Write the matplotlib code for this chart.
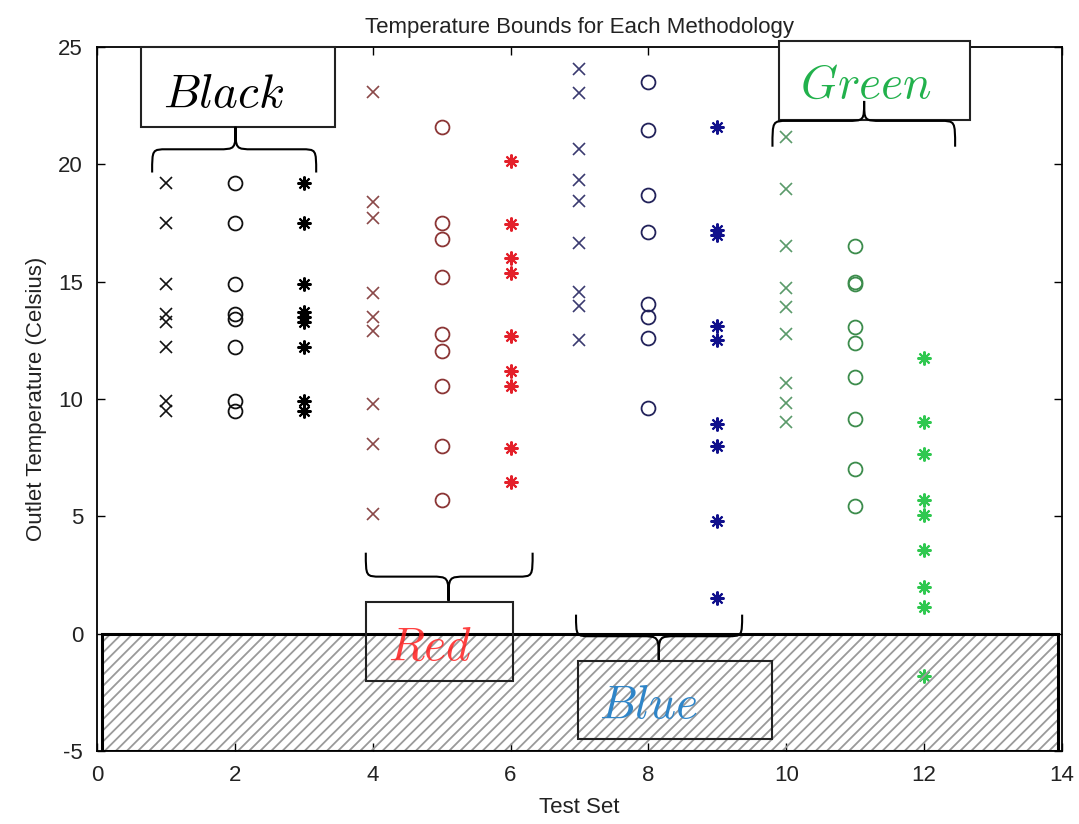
import numpy as np
import matplotlib
matplotlib.use("Agg")
import matplotlib.pyplot as plt
from matplotlib.patches import Rectangle, PathPatch
from matplotlib.path import Path

plt.rcParams['font.family'] = ['Liberation Sans', 'DejaVu Sans']
plt.rcParams['mathtext.fontset'] = 'cm'
plt.rcParams['axes.unicode_minus'] = False
plt.rcParams['hatch.linewidth'] = 1.3

# outlet temperature bounds per test set (x, o, * for each methodology)
test_black = [1, 2, 3]
black_x = [19.2, 17.5, 14.9, 13.6, 13.3, 12.2, 9.9, 9.5]
black_o = [19.2, 17.5, 14.9, 13.6, 13.4, 12.2, 9.9, 9.5]
black_star = [19.2, 17.5, 14.9, 13.7, 13.5, 13.3, 12.2, 9.9, 9.5]

test_red = [4, 5, 6]
red_x = [23.1, 18.4, 17.7, 14.5, 13.5, 12.9, 9.8, 8.1, 5.1]
red_o = [21.6, 17.5, 16.8, 15.2, 12.75, 12.05, 10.55, 8.0, 5.7]
red_star = [20.15, 17.45, 16.0, 15.35, 12.7, 11.2, 10.55, 7.9, 6.45]

test_blue = [7, 8, 9]
blue_x = [24.05, 23.05, 20.65, 19.35, 18.45, 16.65, 14.55, 13.95, 12.5]
blue_o = [23.5, 21.45, 18.7, 17.1, 14.05, 13.5, 12.6, 9.6]
blue_star = [21.6, 17.2, 17.0, 13.1, 12.5, 8.95, 8.0, 4.8, 1.5]

test_green = [10, 11, 12]
green_x = [21.15, 18.95, 16.5, 14.75, 13.9, 12.75, 10.7, 9.85, 9.0]
green_o = [16.5, 15.0, 14.9, 13.05, 12.4, 10.95, 9.15, 7.0, 5.45]
green_star = [11.75, 9.0, 7.65, 5.7, 5.05, 3.55, 2.0, 1.15, -1.8]

groups = [
    (test_black, [black_x, black_o, black_star], ['#111111', '#111111', '#000000']),
    (test_red, [red_x, red_o, red_star], ['#8a4848', '#8b3535', '#e4202a']),
    (test_blue, [blue_x, blue_o, blue_star], ['#3a3a70', '#22225a', '#10108c']),
    (test_green, [green_x, green_o, green_star], ['#5a9a6a', '#3c8c4c', '#30c850']),
]

fig = plt.figure(figsize=(10.79, 8.24), dpi=100)
ax = fig.add_axes([0.0899, 0.0886, 0.8943, 0.8544])

star = (8, 2, 0)
for tests, cols, colors in groups:
    for t, vals, c, m in zip(tests, cols, colors, ['x', 'o', star]):
        if m == 'x':
            ax.plot([t] * len(vals), vals, 'x', color=c, ms=8, mew=1.2, zorder=3)
        elif m == 'o':
            ax.plot([t] * len(vals), vals, 'o', mfc='none', mec=c, ms=10, mew=1.3, zorder=3)
        else:
            ax.plot([t] * len(vals), vals, ls='none', marker=m, color=c, ms=10, mew=1.5, zorder=3)

# infeasible region below 0 C
ax.add_patch(Rectangle((0.07, -5), 13.87, 5, facecolor='none', edgecolor='#9a9a9a',
                       hatch='///', lw=0, zorder=4))
ax.add_patch(Rectangle((0.07, -5), 13.87, 5, facecolor='none', edgecolor='black',
                       lw=2.2, zorder=4))


def brace(x0, x1, xc, y_end, y_mid, y_tip, dx=0.22, dt=0.26):
    verts = [(x0, y_end),
             (x0, y_mid), (x0, y_mid), (x0 + dx, y_mid),
             (xc - dt, y_mid),
             (xc, y_mid), (xc, y_mid), (xc, y_tip),
             (xc, y_mid), (xc, y_mid), (xc + dt, y_mid),
             (x1 - dx, y_mid),
             (x1, y_mid), (x1, y_mid), (x1, y_end)]
    codes = [Path.MOVETO] + [Path.CURVE4] * 3 + [Path.LINETO] + [Path.CURVE4] * 6 \
        + [Path.LINETO] + [Path.CURVE4] * 3
    ax.add_patch(PathPatch(Path(verts, codes), fc='none', ec='black', lw=1.5,
                           zorder=7, clip_on=False))


def label_box(x0, x1, y0, y1, text, tx, ty, color, fill, alpha=1.0):
    ax.add_patch(Rectangle((x0, y0), x1 - x0, y1 - y0,
                           facecolor='white' if fill else 'none',
                           edgecolor='#222222', lw=1.5, zorder=6, clip_on=False))
    ax.text(tx, ty, '$' + text + '$', color=color, fontsize=34, ha='center',
            va='baseline', zorder=8, alpha=alpha, clip_on=False)


label_box(0.64, 3.45, 21.6, 24.98, 'Black', 1.83, 22.45, 'black', True)
brace(0.80, 3.18, 2.01, 19.65, 20.64, 21.6)

label_box(9.89, 12.67, 21.9, 25.25, 'Green', 11.15, 22.85, '#22b14c', True)
brace(9.80, 12.45, 11.13, 20.75, 21.85, 22.7)

label_box(3.90, 6.03, -2.0, 1.35, 'Red', 4.83, -1.1, '#ff2020', False, alpha=0.85)
brace(3.90, 6.32, 5.10, 3.45, 2.43, 1.40)

label_box(6.98, 9.79, -4.49, -1.15, 'Blue', 8.0, -3.58, '#2f85c8', False)
brace(6.95, 9.36, 8.15, 0.81, -0.11, -1.12)

ax.set_xlim(0, 14)
ax.set_ylim(-5, 25)
ax.set_xticks(np.arange(0, 15, 2))
ax.set_yticks(np.arange(-5, 26, 5))
ax.tick_params(direction='in', top=True, right=True, length=6, width=1,
               labelsize=16, pad=10, labelcolor='#222222')
for s in ax.spines.values():
    s.set_linewidth(1.3)

ax.set_title('Temperature Bounds for Each Methodology', fontsize=16, pad=10, color='#222222')
ax.set_xlabel('Test Set', fontsize=16, color='#222222', labelpad=8)
ax.set_ylabel('Outlet Temperature (Celsius)', fontsize=16, color='#222222', labelpad=8)

fig.savefig('out.png', dpi=100)
